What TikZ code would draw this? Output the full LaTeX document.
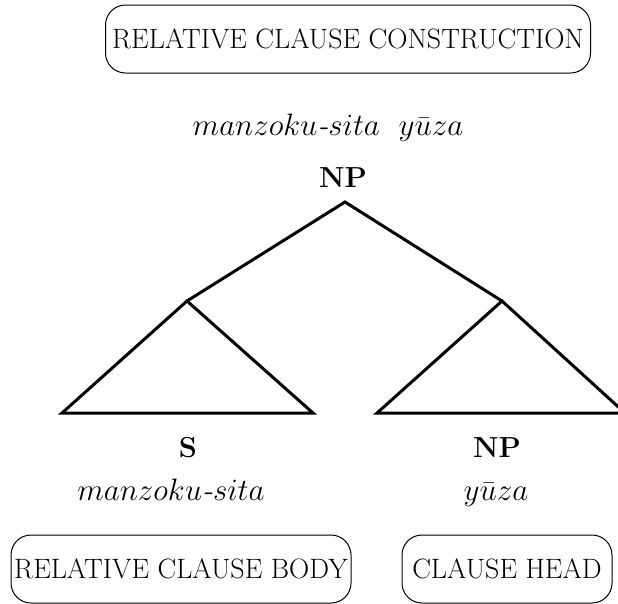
\RequirePackage{fix-cm}
\documentclass[tikz,border=0pt]{standalone}
\usepackage{fontspec}
\usepackage{tikz}
\usetikzlibrary{positioning}

\begin{document}
\begin{tikzpicture}[
  x=1pt, y=1pt,
  line width=3pt, line join=miter,
  every node/.style={font=\fontsize{28}{32}\selectfont, inner sep=0pt},
  labelbox/.style={draw, line width=1pt, rounded corners=20pt, minimum height=68pt, inner xsep=3pt},
  cat/.style={anchor=base, font=\fontsize{29}{33}\selectfont\bfseries},
  gloss/.style={anchor=base, font=\fontsize{31}{35}\selectfont}
]
\useasboundingbox (0,0) rectangle (618,-603);
% labels of the construction
\node[labelbox, minimum width=485pt] (whole) at (348,-39) {RELATIVE CLAUSE CONSTRUCTION};
\node[gloss] (wholegloss) at (328,-135) {$manzoku$\textit{-}$sita$\ \ $y\bar{u}za$};
\node[cat] (np) at (343,-187) {NP};
% tree
\coordinate (top) at (345,-202);
\coordinate (sapex) at (187,-301);
\coordinate (hapex) at (502,-301);
\coordinate (sl) at (62,-413);
\coordinate (sr) at (313,-413);
\coordinate (hl) at (377,-413);
\coordinate (hr) at (625,-413);
\draw (sapex) -- (top) -- (hapex);
\draw (sapex) -- (sl) -- (sr) -- cycle;
\draw (hapex) -- (hl) -- (hr) -- cycle;
% daughters
\node[cat] (s) at (188,-457) {S};
\node[gloss] (sgloss) at (171,-500) {$manzoku$\textit{-}$sita$};
\node[cat] (nph) at (497,-457) {NP};
\node[gloss] (nphgloss) at (496,-500) {$y\bar{u}za$};
\node[labelbox, minimum width=340pt] (body) at (181,-569) {RELATIVE CLAUSE BODY};
\node[labelbox, minimum width=210pt] (head) at (507,-569) {CLAUSE HEAD};
\end{tikzpicture}
\end{document}
